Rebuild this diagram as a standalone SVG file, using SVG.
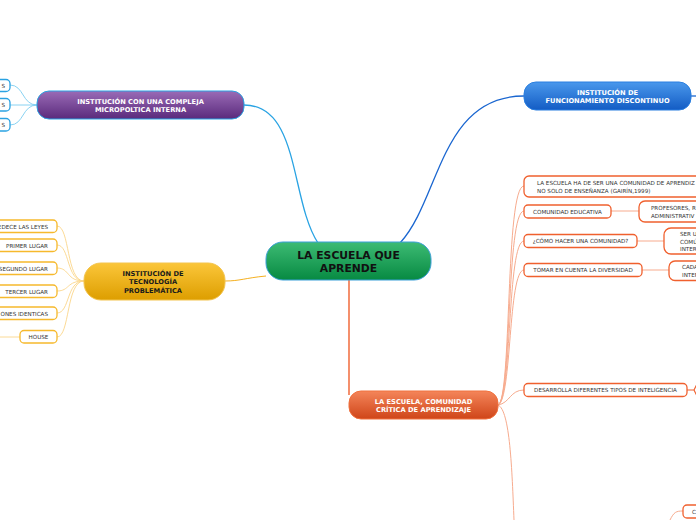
<svg xmlns="http://www.w3.org/2000/svg" width="696" height="520" viewBox="0 0 696 520">
<defs>
<linearGradient id="gGreen" x1="0" y1="0" x2="0" y2="1"><stop offset="0" stop-color="#3dbb74"/><stop offset="1" stop-color="#078a42"/></linearGradient>
<linearGradient id="gPurple" x1="0" y1="0" x2="0" y2="1"><stop offset="0" stop-color="#9a6bb6"/><stop offset="1" stop-color="#5a2a7c"/></linearGradient>
<linearGradient id="gBlue" x1="0" y1="0" x2="0" y2="1"><stop offset="0" stop-color="#4a98ec"/><stop offset="1" stop-color="#135cc4"/></linearGradient>
<linearGradient id="gYellow" x1="0" y1="0" x2="0" y2="1"><stop offset="0" stop-color="#fbc63a"/><stop offset="1" stop-color="#dd9e00"/></linearGradient>
<linearGradient id="gOrange" x1="0" y1="0" x2="0" y2="1"><stop offset="0" stop-color="#f4855a"/><stop offset="1" stop-color="#cf4519"/></linearGradient>
</defs>
<style>
text{font-family:"DejaVu Sans",Verdana,sans-serif}
.main{font-size:10.8px;font-weight:bold;fill:#111}
.mt{font-size:6.7px;font-weight:bold;fill:#fff}
.mtd{font-size:6.7px;font-weight:bold;fill:#1a1a1a}
.ch{font-size:5.6px;fill:#333}
.bx{fill:#fff;stroke-width:1.3}
.bb{stroke:#2aa2e2}
.by{stroke:#f6b92c}
.bo{stroke:#f0602e}
.c{fill:none}
.cb{stroke:#7ccdf0;stroke-width:0.9}
.cy{stroke:#fbd68a;stroke-width:0.9}
.co{stroke:#f7ab8e;stroke-width:1}
</style>
<g id="connectors">
<path class="c" d="M244,105 C300,105 290,200 318,243" stroke="#29a3e3" stroke-width="1.3"/>
<path class="c" d="M400,243 C440,200 440,96 524,96" stroke="#1a66d0" stroke-width="1.3"/>
<path class="c" d="M691,96 L696,96" stroke="#1a66d0" stroke-width="1.3"/>
<path class="c" d="M266,276 C245,278 240,281 225,281" stroke="#f5b020" stroke-width="1"/>
<path class="c" d="M349,280 L349,395" stroke="#f0602e" stroke-width="1.4"/>
<path class="c cb" d="M37,105 C22,105 24,85 10,85"/>
<path class="c cb" d="M37,105 L10,105"/>
<path class="c cb" d="M37,105 C22,105 24,125 10,125"/>
<path class="c cy" d="M84,281 C66,281 70,226 57,226"/>
<path class="c cy" d="M84,281 C66,281 70,245 57,245"/>
<path class="c cy" d="M84,281 C66,281 70,268 57,268"/>
<path class="c cy" d="M84,281 C66,281 70,291 57,291"/>
<path class="c cy" d="M84,281 C66,281 70,313 57,313"/>
<path class="c cy" d="M84,281 C66,281 70,337 57,337"/>
<path class="c cy" d="M20,337 L0,337"/>
<path class="c co" d="M498,405 C512,400 505,186 524,186"/>
<path class="c co" d="M498,405 C512,400 506,211 524,211"/>
<path class="c co" d="M498,405 C512,400 507,241 524,241"/>
<path class="c co" d="M498,405 C512,400 508,270 524,270"/>
<path class="c co" d="M498,405 C510,403 510,390 524,390"/>
<path class="c co" d="M498,405 C510,410 512,470 514,520"/>
<path class="c co" d="M611,211 L639,211"/>
<path class="c co" d="M637,241 L664,241"/>
<path class="c co" d="M642,270 L669,270"/>
<path class="c" d="M687,390 L694,390 M694,390 L697,384 M694,390 L697,396" stroke="#f0602e" stroke-width="1.2"/>
<path class="c co" d="M670,520 C674,512 676,511 683,511"/>
</g>
<g id="central">
<rect x="266" y="242" width="165" height="38" rx="17" fill="url(#gGreen)" stroke="#3a9fd8" stroke-width="1"/>
<text class="main" x="348.5" y="259" text-anchor="middle">LA ESCUELA QUE</text>
<text class="main" x="348.5" y="272" text-anchor="middle">APRENDE</text>
</g>
<g id="n-micropolitica">
<rect x="37" y="91" width="207" height="28" rx="12" fill="url(#gPurple)" stroke="#2aa2e2" stroke-width="1"/>
<text class="mt" x="140.5" y="103.5" text-anchor="middle">INSTITUCIÓN CON UNA COMPLEJA</text>
<text class="mt" x="140.5" y="112" text-anchor="middle">MICROPOLTICA INTERNA</text>
</g>
<g id="n-mp1"><rect class="bx bb" x="-20" y="79.5" width="30" height="12" rx="4"/><text class="ch" x="5" y="87.5" text-anchor="end">S</text></g>
<g id="n-mp2"><rect class="bx bb" x="-20" y="98.5" width="30" height="12.5" rx="4"/><text class="ch" x="5" y="107" text-anchor="end">S</text></g>
<g id="n-mp3"><rect class="bx bb" x="-20" y="118.5" width="30" height="12.5" rx="4"/><text class="ch" x="5" y="127" text-anchor="end">S</text></g>
<g id="n-discontinuo">
<rect x="524" y="82" width="167" height="28" rx="12" fill="url(#gBlue)" stroke="#2a7fe0" stroke-width="1"/>
<text class="mt" x="607.5" y="94.5" text-anchor="middle">INSTITUCIÓN DE</text>
<text class="mt" x="607.5" y="103" text-anchor="middle">FUNCIONAMIENTO DISCONTINUO</text>
</g>
<g id="n-tecnologia">
<rect x="84" y="263" width="141" height="37" rx="17" fill="url(#gYellow)" stroke="#f3c44e" stroke-width="1"/>
<text class="mtd" x="153" y="275.5" text-anchor="middle">INSTITUCIÓN DE</text>
<text class="mtd" x="153" y="284" text-anchor="middle">TECNOLOGÍA</text>
<text class="mtd" x="153" y="292.5" text-anchor="middle">PROBLEMÁTICA</text>
</g>
<g id="n-t1"><rect class="bx by" x="-20" y="220" width="77" height="12.5" rx="4"/><text class="ch" x="48" y="228.5" text-anchor="end">EDECE LAS LEYES</text></g>
<g id="n-t2"><rect class="bx by" x="-20" y="239" width="77" height="12.5" rx="4"/><text class="ch" x="48" y="247.5" text-anchor="end">PRIMER LUGAR</text></g>
<g id="n-t3"><rect class="bx by" x="-20" y="262" width="77" height="12.5" rx="4"/><text class="ch" x="48" y="270.5" text-anchor="end">SEGUNDO LUGAR</text></g>
<g id="n-t4"><rect class="bx by" x="-20" y="285" width="77" height="12.5" rx="4"/><text class="ch" x="48" y="293.5" text-anchor="end">TERCER LUGAR</text></g>
<g id="n-t5"><rect class="bx by" x="-20" y="307" width="77" height="12.5" rx="4"/><text class="ch" x="48" y="315.5" text-anchor="end">ONES IDENTICAS</text></g>
<g id="n-t6"><rect class="bx by" x="20" y="330.5" width="37" height="12.5" rx="4"/><text class="ch" x="38.5" y="339" text-anchor="middle">HOUSE</text></g>
<g id="n-comunidad">
<rect x="349" y="391" width="149" height="28" rx="12" fill="url(#gOrange)" stroke="#f0713e" stroke-width="1"/>
<text class="mt" x="423.5" y="403.5" text-anchor="middle">LA ESCUELA, COMUNIDAD</text>
<text class="mt" x="423.5" y="412" text-anchor="middle">CRÍTICA DE APRENDIZAJE</text>
</g>
<g id="n-c1"><rect class="bx bo" x="524" y="176" width="190" height="21" rx="5"/><text class="ch" x="537" y="185">LA ESCUELA HA DE SER UNA COMUNIDAD DE APRENDIZ</text><text class="ch" x="537" y="192.5">NO SOLO DE ENSEÑANZA (GAIRÍN,1999)</text></g>
<g id="n-c2"><rect class="bx bo" x="524" y="205" width="87" height="13" rx="4"/><text class="ch" x="567.5" y="213.5" text-anchor="middle">COMUNIDAD EDUCATIVA</text></g>
<g id="n-c2a"><rect class="bx bo" x="639" y="201" width="80" height="21" rx="6"/><text class="ch" x="651" y="210">PROFESORES, R</text><text class="ch" x="651" y="217.5">ADMINISTRATIV</text></g>
<g id="n-c3"><rect class="bx bo" x="524" y="234.5" width="113" height="13" rx="4"/><text class="ch" x="580.5" y="243" text-anchor="middle">¿CÓMO HACER UNA COMUNIDAD?</text></g>
<g id="n-c3a"><rect class="bx bo" x="664" y="228" width="50" height="26" rx="7"/><text class="ch" x="680" y="236">SER U</text><text class="ch" x="680" y="243.5">COMÚ</text><text class="ch" x="680" y="251">INTER</text></g>
<g id="n-c4"><rect class="bx bo" x="524" y="263.5" width="118" height="13" rx="4"/><text class="ch" x="583" y="272" text-anchor="middle">TOMAR EN CUENTA LA DIVERSIDAD</text></g>
<g id="n-c4a"><rect class="bx bo" x="669" y="261" width="45" height="19.5" rx="6"/><text class="ch" x="682" y="269">CADA</text><text class="ch" x="682" y="276.5">INTER</text></g>
<g id="n-c5"><rect class="bx bo" x="524" y="383.5" width="163" height="13" rx="4"/><text class="ch" x="605.5" y="392" text-anchor="middle">DESARROLLA DIFERENTES TIPOS DE INTELIGENCIA</text></g>
<g id="n-c6"><rect class="bx bo" x="683" y="505" width="30" height="13" rx="4"/><text class="ch" x="692" y="513.5">C</text></g>
</svg>
